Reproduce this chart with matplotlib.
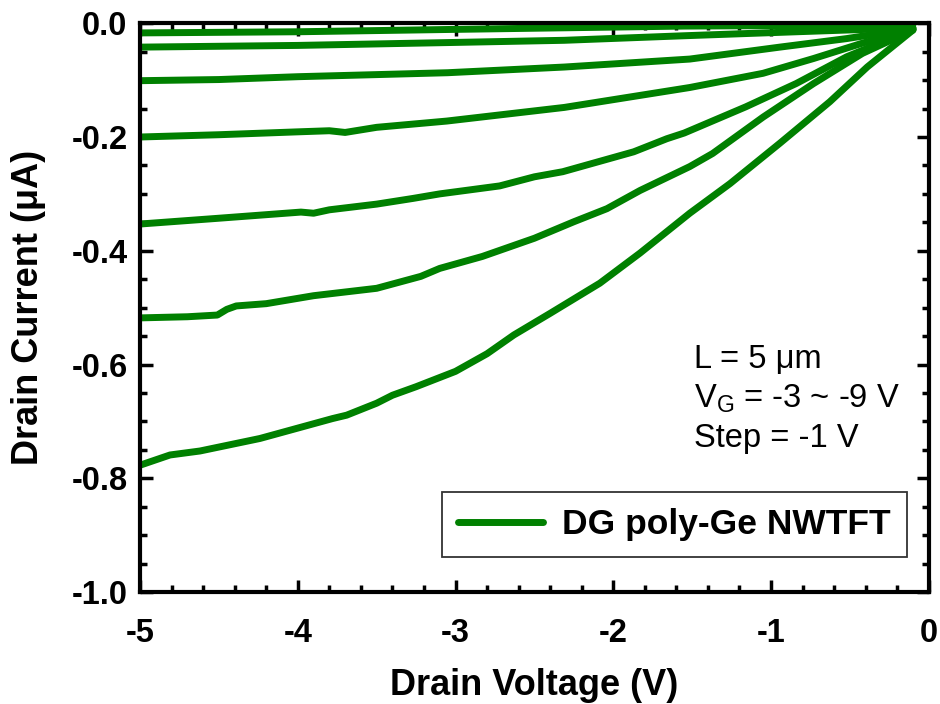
import matplotlib
matplotlib.use("Agg")
import matplotlib.pyplot as plt
from matplotlib.ticker import MultipleLocator

plt.rcParams['font.family'] = ['Liberation Sans', 'DejaVu Sans']
plt.rcParams['mathtext.default'] = 'regular'
plt.rcParams['axes.unicode_minus'] = False

# Data: drain current (uA) vs drain voltage (V), VG = -3 ... -9 V
vg3_x = [-5, -4.0, -3.05, -2.3, -1.55, -0.8, -0.1]
vg3_y = [-0.017, -0.015, -0.011, -0.008, -0.005, -0.004, -0.003]

vg4_x = [-5, -4.0, -3.05, -2.31, -1.55, -0.84, -0.1]
vg4_y = [-0.042, -0.039, -0.034, -0.030, -0.022, -0.015, -0.008]

vg5_x = [-5, -4.5, -4.0, -3.05, -2.31, -1.515, -0.944, -0.52, -0.1]
vg5_y = [-0.101, -0.099, -0.094, -0.087, -0.077, -0.063, -0.042, -0.027, -0.009]

vg6_x = [-5, -4.5, -4.007, -3.8, -3.7, -3.5, -3.056, -2.31, -1.515, -1.05, -0.73, -0.42, -0.1]
vg6_y = [-0.200, -0.196, -0.191, -0.189, -0.192, -0.183, -0.172, -0.148, -0.113, -0.088, -0.062, -0.035, -0.010]

vg7_x = [-5, -4.51, -3.98, -3.9, -3.8, -3.5, -3.27, -3.1, -2.72, -2.5, -2.32, -1.87, -1.66, -1.55,
         -1.16, -0.84, -0.52, -0.1]
vg7_y = [-0.353, -0.343, -0.332, -0.334, -0.328, -0.318, -0.308, -0.300, -0.286, -0.270, -0.261,
         -0.226, -0.203, -0.193, -0.147, -0.106, -0.059, -0.011]

vg8_x = [-5, -4.7, -4.51, -4.45, -4.39, -4.2, -3.9, -3.5, -3.22, -3.1, -2.83, -2.5, -2.25, -2.04,
         -1.83, -1.515, -1.37, -1.05, -0.73, -0.42, -0.1]
vg8_y = [-0.518, -0.516, -0.513, -0.503, -0.497, -0.493, -0.479, -0.466, -0.445, -0.431, -0.410,
         -0.378, -0.349, -0.326, -0.294, -0.252, -0.229, -0.165, -0.106, -0.053, -0.012]

vg9_x = [-5, -4.81, -4.62, -4.24, -3.78, -3.69, -3.5, -3.4, -3.25, -3.0, -2.8, -2.63, -2.4, -2.085,
         -1.83, -1.515, -1.26, -0.944, -0.627, -0.39, -0.1]
vg9_y = [-0.777, -0.759, -0.752, -0.730, -0.695, -0.689, -0.668, -0.654, -0.639, -0.612, -0.581,
         -0.548, -0.510, -0.457, -0.404, -0.334, -0.282, -0.211, -0.138, -0.077, -0.012]

curves = [(vg3_x, vg3_y), (vg4_x, vg4_y), (vg5_x, vg5_y), (vg6_x, vg6_y),
          (vg7_x, vg7_y), (vg8_x, vg8_y), (vg9_x, vg9_y)]

x_ticks = [-5, -4, -3, -2, -1, 0]
x_ticklabels = ['-5', '-4', '-3', '-2', '-1', '0']
y_ticks = [-1.0, -0.8, -0.6, -0.4, -0.2, 0.0]
y_ticklabels = ['-1.0', '-0.8', '-0.6', '-0.4', '-0.2', '0.0']

legend_label = 'DG poly-Ge NWTFT'
green = '#008000'

fig = plt.figure(figsize=(9.4, 7.04), dpi=100)
ax = fig.add_axes([0.149, 0.159, 0.839, 0.808])

for i, (xs, ys) in enumerate(curves):
    ax.plot(xs, ys, color=green, lw=5, solid_capstyle='round', solid_joinstyle='round',
            label=legend_label if i == 0 else None)

ax.set_xlim(-5, 0)
ax.set_ylim(-1.0, 0.0)
ax.set_xticks(x_ticks)
ax.set_xticklabels(x_ticklabels)
ax.set_yticks(y_ticks)
ax.set_yticklabels(y_ticklabels)
ax.xaxis.set_minor_locator(MultipleLocator(0.2))
ax.yaxis.set_minor_locator(MultipleLocator(0.05))

for s in ax.spines.values():
    s.set_linewidth(3)

ax.tick_params(which='both', direction='in', top=True, right=True, width=2.5)
ax.tick_params(which='major', length=9, labelsize=23.5)
ax.tick_params(which='minor', length=5)
ax.tick_params(axis='x', which='major', pad=19)
ax.tick_params(axis='y', which='major', pad=9)
for lab in ax.get_xticklabels() + ax.get_yticklabels():
    lab.set_fontweight('bold')

ax.set_xlabel('Drain Voltage (V)', fontsize=26, fontweight='bold', labelpad=13)
ax.set_ylabel('Drain Current (μA)', fontsize=26, fontweight='bold', labelpad=18)

ax.text(0.703, 0.394, 'L = 5 μm', transform=ax.transAxes, fontsize=23.5, va='baseline', ha='left')
ax.text(0.703, 0.325, 'V$_G$ = -3 ~ -9 V', transform=ax.transAxes, fontsize=23.5, va='baseline', ha='left')
ax.text(0.703, 0.255, 'Step = -1 V', transform=ax.transAxes, fontsize=23.5, va='baseline', ha='left')

leg = ax.legend(loc='lower right', bbox_to_anchor=(0.972, 0.0615), borderaxespad=0,
                prop={'weight': 'bold', 'size': 25.5}, frameon=True, fancybox=False,
                edgecolor='black', handlelength=2.4, borderpad=0.45, handletextpad=0.55)
leg.get_frame().set_linewidth(1.3)

fig.savefig('out.png', dpi=100)
